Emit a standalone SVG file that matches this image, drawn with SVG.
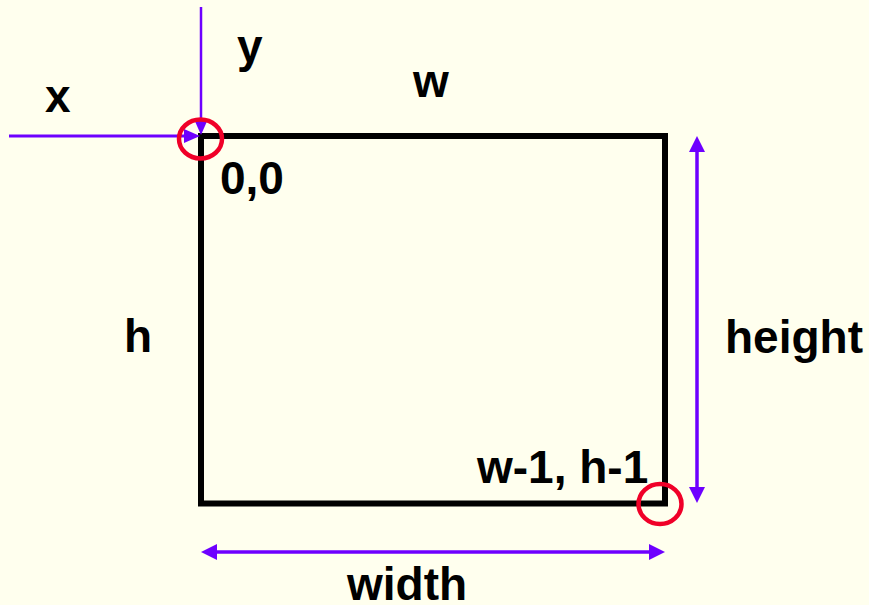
<svg xmlns="http://www.w3.org/2000/svg" width="869" height="605" viewBox="0 0 869 605">
<style>
.lbl{font-family:"Liberation Sans",Arial,sans-serif;font-weight:bold;font-size:46px;fill:#000}
.arr{stroke:#6E00FF;fill:none}
.ring{stroke:#F00028;stroke-width:4.5;fill:none}
</style>
<defs>
<marker id="ah" markerUnits="userSpaceOnUse" markerWidth="16" markerHeight="16" refX="6" refY="8" orient="auto-start-reverse">
<path d="M0,0 L16,8 L0,16 z" fill="#6E00FF"/>
</marker>
<marker id="ahs" markerUnits="userSpaceOnUse" markerWidth="16" markerHeight="16" refX="6" refY="7" orient="auto">
<path d="M0,0 L16,7 L0,14 z" fill="#6E00FF"/>
</marker>
</defs>
<rect width="869" height="605" fill="#FFFFEE"/>
<g id="frame">
<rect x="201" y="136" width="464" height="367.5" fill="none" stroke="#000" stroke-width="6"/>
</g>
<g id="connectors">
<line class="arr" x1="9" y1="136" x2="190" y2="136" stroke-width="3" marker-end="url(#ahs)"/>
<line class="arr" x1="201" y1="7" x2="201" y2="125" stroke-width="2.5" marker-end="url(#ahs)"/>
<line class="arr" x1="697" y1="146" x2="697" y2="493" stroke-width="3.5" marker-start="url(#ah)" marker-end="url(#ah)"/>
<line class="arr" x1="211" y1="552" x2="655" y2="552" stroke-width="3.5" marker-start="url(#ah)" marker-end="url(#ah)"/>
</g>
<g id="origin-marker"><ellipse class="ring" cx="200.5" cy="139" rx="21.5" ry="19.5"/></g>
<g id="end-marker"><ellipse class="ring" cx="660" cy="504" rx="21.5" ry="20"/></g>
<g id="labels">
<text class="lbl" x="45" y="112">x</text>
<text class="lbl" x="237" y="62">y</text>
<text class="lbl" x="413" y="97">w</text>
<text class="lbl" x="220" y="194">0,0</text>
<text class="lbl" x="124" y="352">h</text>
<text class="lbl" x="725" y="353">height</text>
<text class="lbl" x="477" y="483">w-1, h-1</text>
<text class="lbl" x="347" y="600">width</text>
</g>
</svg>
